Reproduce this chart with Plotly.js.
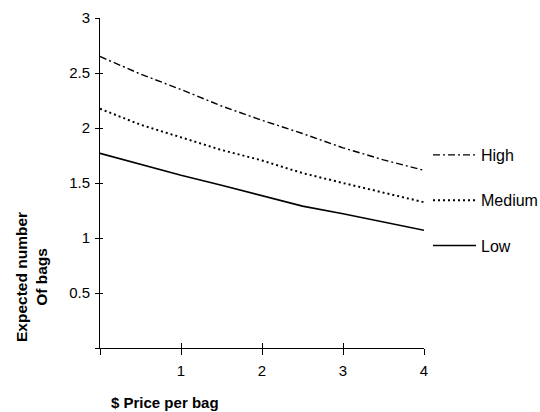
<!DOCTYPE html>
<html>
<head>
<meta charset="utf-8">
<script src="https://cdn.plot.ly/plotly-3.0.1.min.js"></script>
<style>html,body{margin:0;padding:0;background:#fff;}#chart{width:540px;height:412px;}</style>
</head>
<body>
<div id="chart"></div>
<script>
const price = [0, 0.5, 1, 1.5, 2, 2.5, 3, 3.5, 4];
const highBags = [2.65, 2.49, 2.35, 2.20, 2.07, 1.95, 1.82, 1.71, 1.615];
const mediumBags = [2.175, 2.03, 1.915, 1.80, 1.705, 1.59, 1.50, 1.41, 1.325];
const lowBags = [1.77, 1.67, 1.57, 1.48, 1.385, 1.29, 1.22, 1.145, 1.07];
const xTickVals = [0, 1, 2, 3, 4];
const xTickText = ['', '1', '2', '3', '4'];
const yTickVals = [0, 0.5, 1, 1.5, 2, 2.5, 3];
const yTickText = ['', '0.5', '1', '1.5', '2', '2.5', '3'];

const fam = 'Liberation Sans, Arial, sans-serif';
const tickFont = {family: fam, size: 15, color: '#000'};
const titleFont = {family: fam, size: 15, color: '#000'};

const traces = [
  {x: price, y: highBags, name: 'High', mode: 'lines', legendgroup: 'h',
   line: {color: '#000', width: 1.4, dash: '7px,3px,2px,3px'}},
  {x: price, y: mediumBags, name: 'Medium', mode: 'lines', legendgroup: 'm',
   line: {color: '#000', width: 2, dash: '2px,3px'}},
  {x: price, y: lowBags, name: 'Low', mode: 'lines', legendgroup: 'l',
   line: {color: '#000', width: 1.6}},
  {x: [0, 4], y: [0, 0], xaxis: 'x2', yaxis: 'y2', mode: 'lines', showlegend: false, hoverinfo: 'skip',
   line: {color: 'rgba(0,0,0,0)', width: 0}}
];

const layout = {
  width: 540, height: 412,
  margin: {l: 100, r: 116, t: 18, b: 64, autoexpand: false},
  paper_bgcolor: '#fff', plot_bgcolor: '#fff',
  font: tickFont,
  showlegend: true,
  legend: {x: (428 - 100) / 324, y: (348 - 138) / 330, xanchor: 'left', yanchor: 'top',
           tracegroupgap: 21.5, itemwidth: 43,
           font: {family: fam, size: 16, color: '#000'}, bgcolor: 'rgba(0,0,0,0)'},
  xaxis: {range: [0, 4], tickvals: xTickVals, ticktext: xTickText, ticks: 'outside', ticklen: 6,
          tickwidth: 1, tickcolor: '#000', showgrid: false, zeroline: false, showline: true,
          linecolor: '#000', linewidth: 1, ticklabelstandoff: 3, tickfont: tickFont, automargin: false},
  xaxis2: {range: [0, 4], overlaying: 'x', anchor: 'y', side: 'bottom', tickvals: [1, 2, 3, 4],
           ticks: 'inside', ticklen: 5, tickwidth: 1, tickcolor: '#000', showticklabels: false,
           showgrid: false, zeroline: false, showline: false},
  yaxis: {range: [0, 3], tickvals: yTickVals, ticktext: yTickText, ticks: 'outside', ticklen: 4,
          tickwidth: 1, tickcolor: '#000', showgrid: false, zeroline: false, showline: true,
          linecolor: '#000', linewidth: 1, ticklabelstandoff: 2, tickfont: tickFont, automargin: false},
  yaxis2: {range: [0, 3], overlaying: 'y', anchor: 'x', side: 'left', tickvals: [0.5, 1, 1.5, 2, 2.5],
           ticks: 'inside', ticklen: 3, tickwidth: 1, tickcolor: '#000', showticklabels: false,
           showgrid: false, zeroline: false, showline: false},
  annotations: [
    {text: '<b>$ Price per bag</b>', xref: 'paper', yref: 'paper', x: (164.5 - 100) / 324, y: (348 - 402) / 330,
     xanchor: 'center', yanchor: 'middle', showarrow: false, font: titleFont},
    {text: '<b>Expected number<br>Of bags</b>', xref: 'paper', yref: 'paper', x: (31 - 100) / 324, y: (348 - 277) / 330,
     xanchor: 'center', yanchor: 'middle', showarrow: false, textangle: -90,
     font: {family: fam, size: 15.5, color: '#000'}}
  ]
};

Plotly.newPlot('chart', traces, layout, {displayModeBar: false, staticPlot: true});
</script>
</body>
</html>
